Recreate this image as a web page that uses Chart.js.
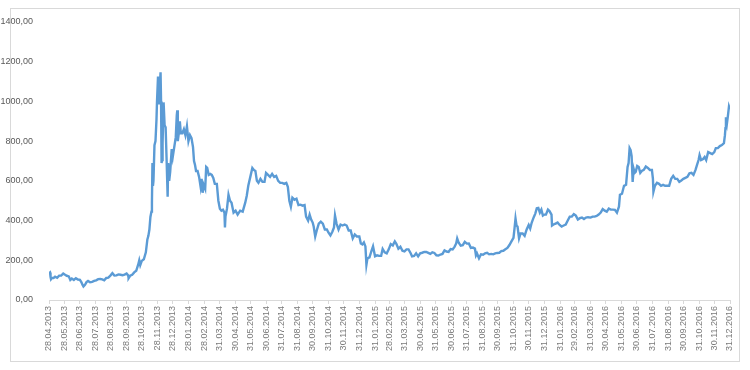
<!DOCTYPE html>
<html><head><meta charset="utf-8">
<script src="https://cdn.jsdelivr.net/npm/chart.js@4"></script>
<style>html,body{margin:0;padding:0;background:#fff}#wrap{width:750px;height:370px;position:relative}</style>
</head><body><div id="wrap"><canvas id="c" width="750" height="370"></canvas></div>
<script>
// X-axis tick labels (monthly)
const tickLabels = ["28.04.2013","28.05.2013","28.06.2013","28.07.2013","28.08.2013","28.09.2013","28.10.2013","28.11.2013","28.12.2013",
"28.01.2014","28.02.2014","31.03.2014","30.04.2014","31.05.2014","30.06.2014","31.07.2014","31.08.2014","30.09.2014","31.10.2014","30.11.2014","31.12.2014",
"31.01.2015","28.02.2015","31.03.2015","30.04.2015","31.05.2015","30.06.2015","31.07.2015","31.08.2015","30.09.2015","31.10.2015","30.11.2015","31.12.2015",
"31.01.2016","29.02.2016","31.03.2016","30.04.2016","31.05.2016","30.06.2016","31.07.2016","31.08.2016","30.09.2016","31.10.2016","30.11.2016","31.12.2016"];

// Y-axis ticks
const yTicks = [0,200,400,600,800,1000,1200,1400];

// Series (date MM-DD per year, price)
const dates2013 = ["04-28","04-30","05-01","05-02","05-04","05-07","05-10","05-14","05-18","05-22","05-26","05-29","06-02","06-06","06-09","06-12","06-16","06-20","06-24","06-28","07-01","07-03","07-05","07-08","07-11","07-14","07-18","07-22","07-26","07-30","08-03","08-07","08-11","08-15","08-19","08-23","08-27","08-31","09-04","09-08","09-12","09-16","09-20","09-24","09-28","10-01","10-02","10-05","10-09","10-13","10-17","10-21","10-23","10-25","10-28","11-01","11-05","11-08","11-10","11-12","11-14","11-16","11-17","11-18","11-19","11-20","11-22","11-24","11-26","11-27","11-29","11-30","12-01","12-02","12-04","12-05","12-06","12-07","12-08","12-10","12-12","12-14","12-16","12-18","12-19","12-21","12-23","12-26","12-28","12-31"];
const prices2013 = [135,139,117,105,112,111,117,112,123,123,133,128,122,119,101,108,101,110,103,101,89,77,68,76,90,96,89,91,96,99,105,106,104,99,111,113,123,135,123,124,129,127,125,128,133,124,110,122,127,139,147,179,200,176,197,205,240,305,323,355,418,445,490,690,575,600,780,800,910,1000,1125,1125,990,1050,1147,1000,690,705,790,995,880,870,700,520,690,600,645,760,720,770];

const dates2014 = ["01-03","01-05","01-06","01-07","01-09","01-11","01-13","01-16","01-19","01-22","01-25","01-28","01-31","02-03","02-06","02-08","02-10","02-12","02-15","02-18","02-21","02-23","02-25","02-27","03-02","03-04","03-06","03-09","03-12","03-15","03-18","03-21","03-25","03-28","03-31","04-03","04-06","04-09","04-10","04-11","04-14","04-17","04-20","04-23","04-27","05-01","05-05","05-10","05-15","05-20","05-23","05-26","05-30","06-03","06-06","06-09","06-12","06-15","06-19","06-23","06-27","06-30","07-04","07-08","07-12","07-16","07-20","07-24","07-28","08-01","08-05","08-09","08-12","08-15","08-18","08-21","08-25","08-29","09-02","09-06","09-10","09-14","09-17","09-21","09-24","09-27","09-30","10-02","10-05","10-08","10-12","10-16","10-20","10-24","10-28","10-31","11-04","11-08","11-11","11-13","11-16","11-20","11-24","11-28","12-02","12-06","12-10","12-14","12-18","12-22","12-26","12-31"];
const prices2014 = [820,930,955,800,840,900,840,840,860,830,875,800,830,815,770,700,680,650,650,620,570,610,540,580,560,670,665,630,635,630,615,585,585,500,460,450,455,440,365,420,460,530,500,490,440,450,430,450,445,490,525,575,620,665,655,650,600,590,610,595,595,640,630,620,635,620,625,600,590,590,585,590,570,500,470,515,505,510,478,480,475,478,420,400,430,405,390,370,320,350,385,395,385,355,355,340,325,345,365,425,385,355,380,375,380,375,350,350,310,330,320,320];

const dates2015 = ["01-03","01-06","01-09","01-12","01-14","01-16","01-20","01-24","01-27","01-31","02-04","02-08","02-12","02-15","02-19","02-23","02-27","03-03","03-07","03-11","03-14","03-18","03-22","03-26","03-30","04-03","04-07","04-11","04-14","04-18","04-22","04-26","04-30","05-04","05-08","05-12","05-16","05-20","05-24","05-28","06-01","06-05","06-09","06-13","06-17","06-21","06-25","06-29","07-03","07-07","07-10","07-12","07-15","07-19","07-23","07-27","07-31","08-04","08-08","08-12","08-16","08-18","08-20","08-24","08-28","09-01","09-05","09-09","09-13","09-17","09-21","09-25","09-29","10-03","10-07","10-11","10-15","10-19","10-23","10-27","10-31","11-02","11-04","11-06","11-08","11-11","11-14","11-18","11-22","11-26","11-30","12-03","12-06","12-10","12-13","12-16","12-19","12-22","12-25","12-28","12-31"];
const prices2015 = [285,280,290,270,178,210,215,248,270,220,225,222,222,257,240,235,255,282,275,295,283,258,268,248,245,255,255,237,220,222,235,220,235,238,242,242,237,232,240,237,225,224,229,232,250,244,242,257,255,269,285,310,288,274,276,293,284,285,262,264,259,225,235,210,230,228,235,238,230,232,230,235,237,238,246,248,255,262,277,295,313,360,410,375,370,310,335,335,323,355,378,360,390,417,435,462,464,440,455,425,430];

const dates2016 = ["01-03","01-07","01-10","01-14","01-15","01-18","01-22","01-26","01-30","02-03","02-07","02-11","02-15","02-19","02-23","02-27","03-02","03-06","03-10","03-14","03-18","03-22","03-26","03-31","04-04","04-08","04-12","04-16","04-20","04-24","04-28","05-02","05-06","05-10","05-14","05-18","05-22","05-26","05-28","06-01","06-05","06-09","06-12","06-14","06-16","06-18","06-20","06-22","06-24","06-26","06-28","07-01","07-04","07-07","07-10","07-14","07-18","07-22","07-26","07-30","08-01","08-02","08-05","08-09","08-13","08-17","08-21","08-25","08-29","09-02","09-06","09-10","09-14","09-18","09-22","09-26","09-30","10-04","10-08","10-12","10-16","10-20","10-24","10-27","10-30","11-01","11-04","11-08","11-11","11-14","11-18","11-22","11-26","11-30","12-03","12-07","12-11","12-15","12-19","12-21","12-22","12-23","12-25","12-27","12-29","12-31"];
const prices2016 = [430,455,448,430,375,380,385,390,378,370,375,380,400,420,420,432,425,405,412,415,408,415,417,415,420,420,423,430,440,458,450,445,460,455,455,454,440,470,530,535,575,580,670,690,765,755,725,595,660,640,645,675,670,640,650,655,672,665,655,655,610,545,575,590,585,575,580,575,575,575,610,625,610,610,595,602,610,615,620,638,640,630,655,680,705,730,705,710,720,705,745,740,735,745,765,765,775,780,790,830,865,920,890,930,975,960];

const START = Date.UTC(2013,3,28);
function dayOf(y,m,d){ return Math.round((Date.UTC(y,m-1,d)-START)/86400000); }
function build(year, ds, ps){ return ds.map((s,i)=>{ const [m,d]=s.split('-').map(Number); return {x: dayOf(year,m,d), y: ps[i]}; }); }
const points = [].concat(build(2013,dates2013,prices2013), build(2014,dates2014,prices2014), build(2015,dates2015,prices2015), build(2016,dates2016,prices2016));
const tickDays = tickLabels.map(t=>{ const [d,m,y]=t.split('.').map(Number); return dayOf(y,m,d); });
const labelByDay = {}; tickDays.forEach((v,i)=>labelByDay[v]=tickLabels[i]);

const frame = {
  id:'frame',
  beforeDraw(chart){ const c=chart.ctx; c.save(); c.fillStyle='#fff'; c.fillRect(0,0,chart.width,chart.height);
    c.strokeStyle='#d9d9d9'; c.lineWidth=1; c.strokeRect(10.5,8.5,729,353); c.restore(); }
};

new Chart(document.getElementById('c'), {
  type:'line',
  data:{ datasets:[{ data: points, borderColor:'#5b9bd5', borderWidth:2.4, pointRadius:0, tension:0, fill:false }]},
  options:{
    responsive:false, animation:false, devicePixelRatio:1,
    layout:{ padding:{ top:22, right:20, bottom:0, left:0 } },
    plugins:{ legend:{display:false}, tooltip:{enabled:false} },
    scales:{
      x:{ type:'linear', min:0, max:tickDays[tickDays.length-1],
        afterBuildTicks(s){ s.ticks = tickDays.map(v=>({value:v})); },
        afterFit(s){ s.height = 70; },
        grid:{ display:true, drawOnChartArea:false, drawTicks:true, tickLength:4, color:'#d9d9d9' },
        border:{ color:'#d9d9d9' },
        ticks:{ autoSkip:false, minRotation:90, maxRotation:90, padding:2, color:'#7a7a7a',
          font:{ family:'Liberation Sans', size:9 }, callback:(v)=>labelByDay[v] }
      },
      y:{ min:0, max:1400,
        afterBuildTicks(s){ s.ticks = yTicks.map(v=>({value:v})); },
        afterFit(s){ s.width = 49; },
        grid:{ display:false }, border:{ display:false },
        ticks:{ padding:8, color:'#595959', font:{ family:'Liberation Sans', size:9 },
          callback:(v)=>v.toFixed(2).replace('.',',') }
      }
    }
  },
  plugins:[frame]
});
</script></body></html>
